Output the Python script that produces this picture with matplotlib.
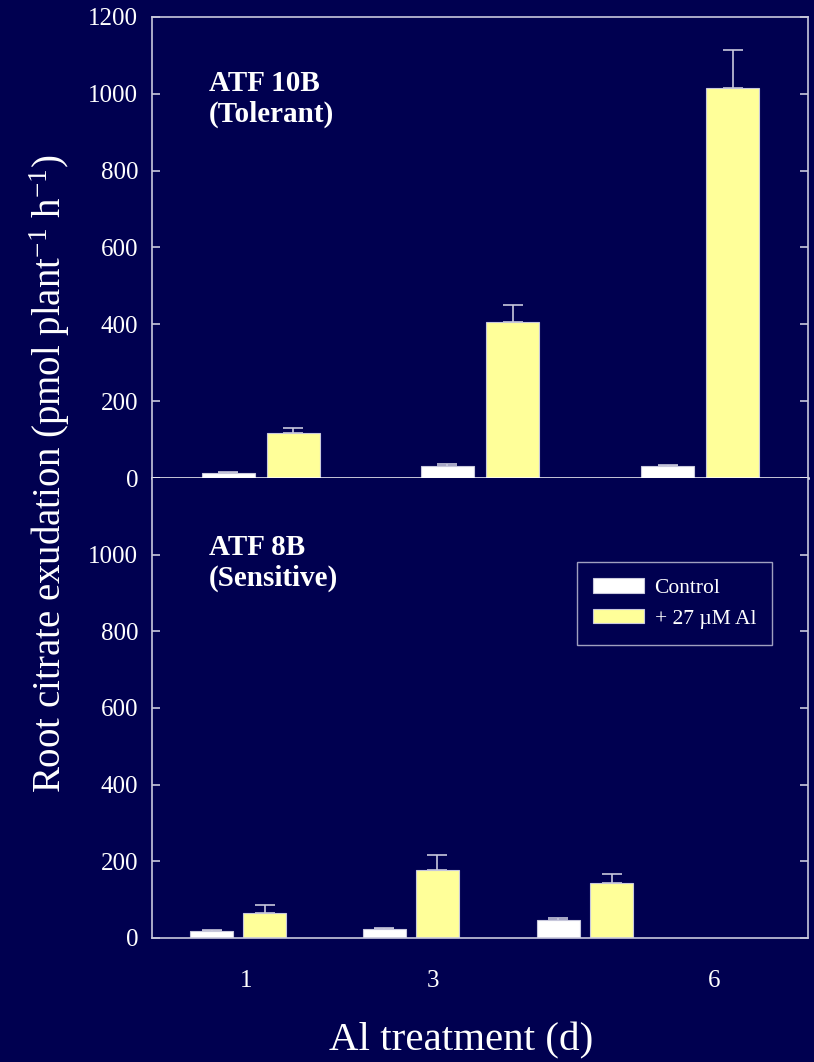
import matplotlib.pyplot as plt
import numpy as np

plt.rcParams['font.family'] = ['Liberation Serif', 'DejaVu Serif']
plt.rcParams['mathtext.fontset'] = 'custom'
plt.rcParams['mathtext.rm'] = 'Liberation Serif'
plt.rcParams['mathtext.it'] = 'Liberation Serif:italic'

bg = '#000050'
fg = 'white'
line_c = '#c8c8dc'
yellow = '#ffff99'

days = ['1', '3', '6']
day_ticks = [1, 3, 6]

# ATF 10B (tolerant)
tol_ctrl = [13, 31, 32]
tol_ctrl_err = [3, 5, 3]
tol_al = [116, 405, 1014]
tol_al_err = [15, 45, 100]

# ATF 8B (sensitive)
sen_ctrl = [17, 23, 47]
sen_ctrl_err = [3, 2, 6]
sen_al = [65, 178, 143]
sen_al_err = [21, 39, 25]

fig = plt.figure(figsize=(8.14, 10.62), dpi=100, facecolor=bg)
ax1 = fig.add_axes([0.1867, 0.5499, 0.806, 0.4341])
ax2 = fig.add_axes([0.1867, 0.1168, 0.806, 0.4331])

# group centres differ a bit between the panels in the original
panels = [
    (ax1, tol_ctrl, tol_ctrl_err, tol_al, tol_al_err, [1.16, 3.50, 5.85], 0.566, 0.128,
     ['ATF 10B', '(Tolerant)'], [0.8395, 0.772]),
    (ax2, sen_ctrl, sen_ctrl_err, sen_al, sen_al_err, [0.92, 2.76, 4.62], 0.46, 0.107,
     ['ATF 8B', '(Sensitive)'], [0.8326, 0.767]),
]

for ax, c, ce, a, ae, centres, w, gap, label, ly in panels:
    centres = np.array(centres)
    xc = centres - (w + gap) / 2
    xa = centres + (w + gap) / 2
    ax.bar(xc, c, w, color='white', edgecolor=line_c, linewidth=0.8, label='Control', zorder=2)
    ax.bar(xa, a, w, color=yellow, edgecolor=line_c, linewidth=0.8, label='+ 27 µM Al', zorder=2)
    ax.errorbar(xc, c, yerr=[np.zeros(3), ce], fmt='none', ecolor=line_c,
                elinewidth=1.2, capsize=7, capthick=1.2, zorder=1)
    ax.errorbar(xa, a, yerr=[np.zeros(3), ae], fmt='none', ecolor=line_c,
                elinewidth=1.2, capsize=7, capthick=1.2, zorder=1)
    ax.set_facecolor(bg)
    ax.set_xlim(0, 7)
    ax.set_ylim(0, 1200)
    for s in ax.spines.values():
        s.set_color(line_c)
        s.set_linewidth(1.2)
    ax.tick_params(axis='y', direction='in', left=True, right=True, length=6,
                   width=1.2, color=line_c, labelcolor=fg, labelsize=18, pad=10)
    for t, yy in zip(label, ly):
        ax.text(0.0869, yy, t, transform=ax.transAxes, color=fg,
                fontsize=21, fontweight='bold', va='baseline', ha='left')

ax1.set_yticks(np.arange(0, 1201, 200))
ax1.set_xticks([])
ax1.spines['bottom'].set_color('white')
ax1.spines['bottom'].set_linewidth(1.8)
ax2.spines['top'].set_visible(False)
ax2.set_yticks(np.arange(0, 1001, 200))
ax2.set_xticks(day_ticks)
ax2.set_xticklabels(days)
ax2.tick_params(axis='x', length=0, labelcolor=fg, labelsize=18, pad=23)

leg = ax2.legend(loc='upper left', bbox_to_anchor=(0.648, 0.817), borderaxespad=0,
                 frameon=True, fancybox=False, facecolor=bg, edgecolor=line_c,
                 fontsize=15.5, labelcolor=fg, handlelength=2.35, handleheight=0.65,
                 handletextpad=0.5, borderpad=0.75, labelspacing=0.5)
leg.get_frame().set_linewidth(1.0)

fig.text(0.061, 0.554, r'Root citrate exudation (pmol plant$^{\mathregular{-1}}$ h$^{\mathregular{-1}}$)',
         rotation=90, color=fg, fontsize=28, ha='center', va='center')
fig.text(0.567, 0.0195, 'Al treatment (d)', color=fg, fontsize=29.5, ha='center', va='center')

fig.savefig('out.png', dpi=100, facecolor=bg)
